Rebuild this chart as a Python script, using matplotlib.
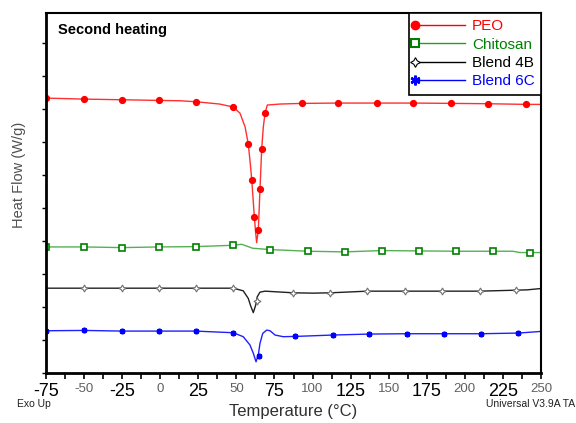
import matplotlib
matplotlib.use("Agg")
import matplotlib.pyplot as plt
from matplotlib.lines import Line2D
from matplotlib.ticker import MultipleLocator

plt.rcParams["font.family"] = ["Liberation Sans", "DejaVu Sans"]

# ---------- DATA (arbitrary heat-flow units) ----------
peo_T = [-75, -50, -25, -1, 13, 23.5, 39, 48, 52.4, 55.7, 57.8, 58.9, 60.1, 61.8,
         62.7, 63.3, 64.4, 65.5, 66.6, 67.7, 68.8, 70.3, 78.6, 93, 117, 142,
         166, 191, 215, 240, 250]
peo_y = [8.33, 8.30, 8.28, 8.26, 8.25, 8.22, 8.15, 8.06, 7.87, 7.46, 6.94, 6.45,
         5.85, 4.72, 4.23, 3.95, 4.33, 5.57, 6.78, 7.46, 7.87, 8.12, 8.15, 8.17,
         8.18, 8.18, 8.18, 8.17, 8.16, 8.14, 8.14]
peo_mT = [-75, -50, -25, -1, 23.5, 48, 57.8, 60.1, 61.8, 64.4, 65.5, 66.6, 68.8,
          93, 117, 142, 166, 191, 215, 240]
peo_my = [8.33, 8.30, 8.28, 8.26, 8.22, 8.06, 6.94, 5.85, 4.72, 4.33, 5.57, 6.78,
          7.87, 8.17, 8.18, 8.18, 8.18, 8.17, 8.16, 8.14]

chi_T = [-75, -50, -25, -1, 23.3, 47.6, 53.5, 60.7, 72.2, 96.9, 121, 145.3,
         169.6, 194.4, 218.7, 231.5, 236.2, 243, 250]
chi_y = [3.82, 3.82, 3.80, 3.82, 3.83, 3.87, 3.90, 3.78, 3.74, 3.69, 3.67, 3.71,
         3.70, 3.69, 3.69, 3.69, 3.65, 3.65, 3.65]
chi_mT = [-75, -50, -25, -1, 23.3, 47.6, 72.2, 96.9, 121, 145.3, 169.6, 194.4,
          218.7, 243]
chi_my = [3.82, 3.82, 3.80, 3.82, 3.83, 3.87, 3.74, 3.69, 3.67, 3.71, 3.70, 3.69,
          3.69, 3.65]

b4_T = [-75, -50, -25, -1, 23.3, 48, 54.5, 57.8, 59.4, 61.1, 62.7, 63.7, 65.5,
        68.8, 87.4, 100.5, 111.7, 136, 160.6, 185, 209.8, 233.9, 241, 250]
b4_y = [2.57, 2.57, 2.57, 2.57, 2.57, 2.57, 2.49, 2.26, 2.03, 1.83, 2.06, 2.31,
        2.45, 2.48, 2.43, 2.42, 2.43, 2.48, 2.48, 2.48, 2.48, 2.51, 2.52, 2.56]
b4_mT = [-50, -25, -1, 23.3, 47.6, 63.4, 87.2, 111.7, 136, 160.6, 185, 209.8, 233.9]
b4_my = [2.57, 2.57, 2.57, 2.57, 2.57, 2.19, 2.43, 2.43, 2.48, 2.48, 2.48, 2.48,
         2.51]

b6_T = [-75, -50, -25, -1, 23.3, 48, 54.5, 58.9, 61.1, 62.9, 64.4, 65.5, 67.3,
        69.9, 72.1, 75.4, 80.8, 89.6, 113.2, 137.2, 161.8, 186.3, 210.6, 235.1,
        250]
b6_y = [1.28, 1.29, 1.27, 1.27, 1.27, 1.22, 1.10, 0.85, 0.60, 0.34, 0.55, 0.90,
        1.20, 1.30, 1.28, 1.15, 1.10, 1.11, 1.15, 1.18, 1.19, 1.19, 1.19, 1.21,
        1.26]
b6_mT = [-75, -50, -25, -1, 23.3, 48, 64.6, 88.4, 113.2, 137.2, 161.8, 186.3,
         210.6, 235.1]
b6_my = [1.28, 1.29, 1.27, 1.27, 1.27, 1.22, 0.52, 1.12, 1.15, 1.18, 1.19, 1.19,
         1.19, 1.21]

x_ticks = list(range(-75, 251, 25))
labels = ["PEO", "Chitosan", "Blend 4B", "Blend 6C"]
# ------------------------------------------------------------------------------

STAR4 = (4, 1, 0)
STAR6 = (6, 2, 0)

fig = plt.figure(figsize=(5.76, 4.23), dpi=100)
ax = fig.add_axes([46 / 576, 1 - 373 / 423, 495 / 576, 360 / 423])

ax.plot(peo_T, peo_y, color="#ff3030", lw=1.0)
ax.plot(peo_mT, peo_my, ls="none", marker="o", ms=4.2, color="#ff0000")

ax.plot(chi_T, chi_y, color="#55b055", lw=1.0)
ax.plot(chi_mT, chi_my, ls="none", marker="s", ms=4.5, mfc="white",
        mec="#008000", mew=1.2)

ax.plot(b4_T, b4_y, color="#202020", lw=1.0)
ax.plot(b4_mT, b4_my, ls="none", marker=STAR4, ms=5, mfc="white",
        mec="#707070", mew=0.8)

ax.plot(b6_T, b6_y, color="#2020ff", lw=1.0)
ax.plot(b6_mT, b6_my, ls="none", marker=STAR6, ms=4, mew=1.6, color="#0000ff")

ax.set_xlim(-75, 250)
ax.set_ylim(0, 360 / 33)

ax.xaxis.set_minor_locator(MultipleLocator(12.5))
ax.yaxis.set_major_locator(MultipleLocator(1))
ax.set_xticks(x_ticks)
ax.set_xticklabels([str(t) for t in x_ticks])
ax.tick_params(axis="x", which="both", direction="out", length=4, width=1.2,
               pad=3, top=False)
ax.tick_params(axis="y", which="both", direction="out", length=3, width=1,
               labelleft=False, right=False)
for i, lab in enumerate(ax.get_xticklabels()):
    if i % 2 == 0:
        lab.set_fontsize(13)
        lab.set_color("black")
    else:
        lab.set_fontsize(9.5)
        lab.set_color("#606060")

for s in ax.spines.values():
    s.set_linewidth(1.5)
ax.spines["left"].set_linewidth(2)
ax.spines["bottom"].set_linewidth(2)

ax.set_xlabel("Temperature (°C)", fontsize=12, color="#303030", labelpad=3)
ax.set_ylabel("Heat Flow (W/g)", fontsize=10.5, color="#505050")
ax.yaxis.set_label_coords(-0.04, 0.55)

ax.text(0.024, 0.972, "Second heating", transform=ax.transAxes, fontsize=10.5,
        fontweight="bold", va="top", ha="left")

fig.text(17 / 576, 1 - 404 / 423, "Exo Up", fontsize=7.5, va="center",
         ha="left", color="#202020")
fig.text(575 / 576, 1 - 404 / 423, "Universal V3.9A TA", fontsize=7.5,
         va="center", ha="right", color="#202020")

# legend with marker at the left end of each handle
handles = [
    Line2D([], [], color="#ff0000", lw=1, marker="o", ms=6),
    Line2D([], [], color="#22a022", lw=1, marker="s", ms=6, mfc="white",
           mec="#008000", mew=1.5),
    Line2D([], [], color="black", lw=1, marker=STAR4, ms=7, mfc="white",
           mec="black", mew=0.8),
    Line2D([], [], color="#0000ff", lw=1, marker=STAR6, ms=7, mew=1.8,
           mec="#0000ff"),
]
leg = ax.legend(handles, labels, loc="upper right", borderaxespad=0,
                fontsize=11, handlelength=3.25, handletextpad=0.45,
                labelspacing=0.28, borderpad=0.42, fancybox=False,
                framealpha=1, numpoints=1)
leg.get_frame().set_edgecolor("black")
leg.get_frame().set_linewidth(1.2)
for h in leg.legend_handles:
    h.set_markevery([0])
for txt, c in zip(leg.get_texts(), ["#ff0000", "#008000", "black", "#0000ff"]):
    txt.set_color(c)

fig.savefig("out.png", dpi=100)
